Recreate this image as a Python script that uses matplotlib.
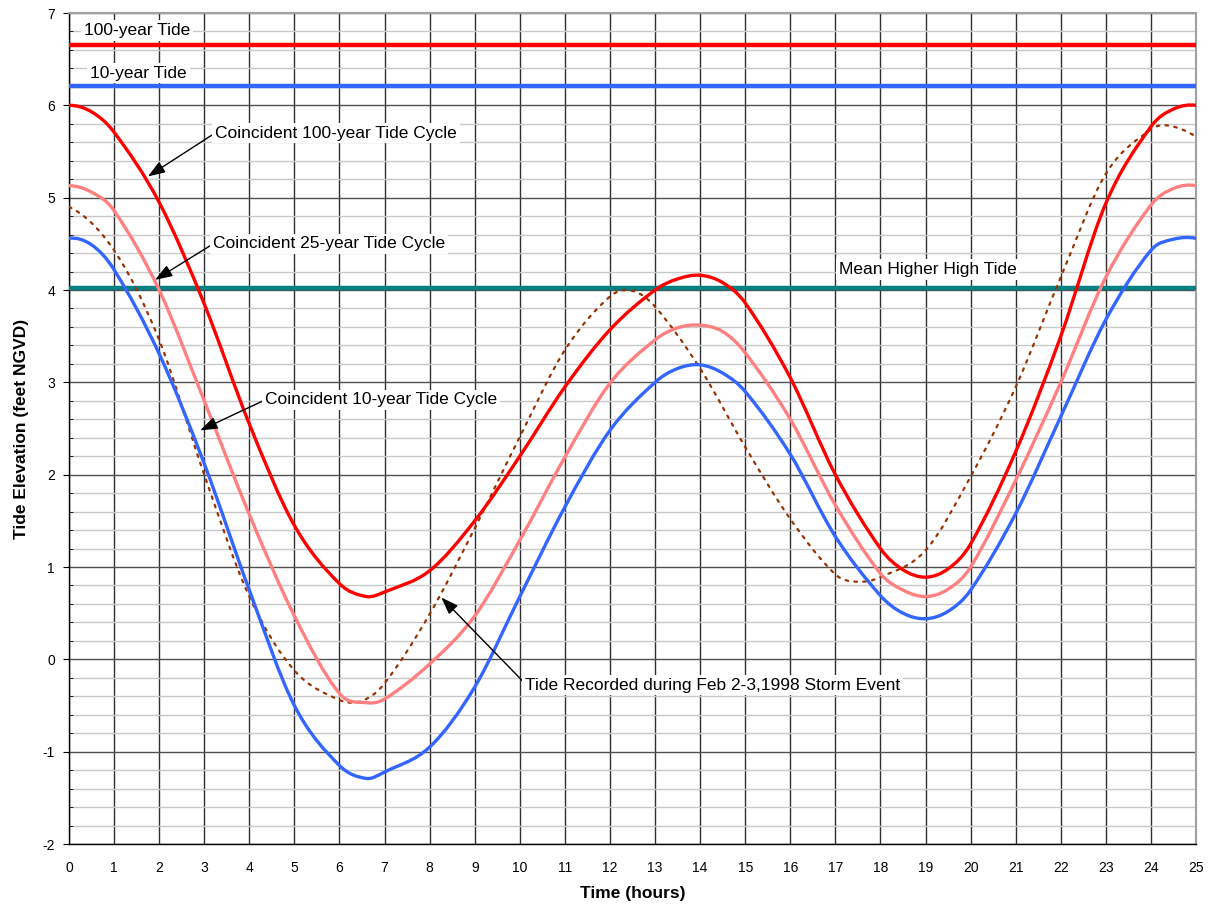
import matplotlib
matplotlib.use("Agg")
import matplotlib.pyplot as plt
import numpy as np
from matplotlib.path import Path
from matplotlib.patches import PathPatch
from matplotlib.ticker import MultipleLocator

plt.rcParams["font.family"] = ["Liberation Sans", "DejaVu Sans"]
plt.rcParams["axes.unicode_minus"] = False

# ===== DATA =====
hours = [0, 0.5, 1, 2, 3, 4, 5, 6, 6.6, 7, 8, 9, 10, 11, 12, 13, 13.5, 14, 14.5,
         15, 16, 17, 18, 18.5, 19, 19.5, 20, 21, 22, 23, 24, 24.5, 25]

cycle_100yr = [6.0, 5.93, 5.71, 4.95, 3.85, 2.55, 1.45, 0.82, 0.68, 0.73, 0.96, 1.5,
               2.2, 2.95, 3.57, 4.0, 4.12, 4.16, 4.08, 3.86, 3.05, 2.0, 1.2, 0.97,
               0.89, 0.98, 1.25, 2.25, 3.5, 4.94, 5.77, 5.96, 6.0]

cycle_25yr = [5.13, 5.06, 4.86, 4.0, 2.8, 1.57, 0.47, -0.37, -0.47, -0.43, -0.05, 0.47,
              1.29, 2.19, 2.99, 3.46, 3.59, 3.62, 3.55, 3.32, 2.6, 1.67, 0.93, 0.75,
              0.68, 0.76, 1.0, 1.94, 3.0, 4.14, 4.92, 5.1, 5.13]

cycle_10yr = [4.56, 4.49, 4.22, 3.31, 2.12, 0.75, -0.5, -1.15, -1.29, -1.22, -0.95, -0.3,
              0.68, 1.65, 2.48, 3.0, 3.15, 3.19, 3.1, 2.9, 2.22, 1.33, 0.69, 0.5,
              0.44, 0.52, 0.75, 1.58, 2.63, 3.68, 4.43, 4.55, 4.56]

rec_hours = [0, 1, 2, 3, 4, 5, 6, 6.5, 7, 8, 9, 10, 11, 12, 12.5, 13, 14, 15, 16, 17,
             17.5, 18, 19, 20, 21, 22, 23, 24, 24.4, 25]
recorded_1998 = [4.9, 4.43, 3.46, 2.0, 0.68, -0.12, -0.44, -0.45, -0.26, 0.49, 1.42,
                 2.41, 3.35, 3.93, 3.99, 3.82, 3.15, 2.3, 1.52, 0.92, 0.84, 0.89, 1.18,
                 1.98, 2.95, 4.14, 5.26, 5.74, 5.78, 5.66]

tide_100yr = 6.65
tide_10yr = 6.21
mean_higher_high = 4.02


# ===== SMOOTHED LINE (like the spreadsheet "smoothed line" option) =====
def smooth_line(ax, x, y, **kw):
    x = np.asarray(x, float)
    y = np.asarray(y, float)
    # tangent slope at every point; ends use a parabola through the last points
    m = np.empty_like(y)
    m[1:-1] = (y[2:] - y[:-2]) / (x[2:] - x[:-2])
    m[0] = 2 * (y[1] - y[0]) / (x[1] - x[0]) - m[1]
    m[-1] = 2 * (y[-1] - y[-2]) / (x[-1] - x[-2]) - m[-2]
    verts = [(x[0], y[0])]
    codes = [Path.MOVETO]
    for i in range(len(x) - 1):
        h = (x[i + 1] - x[i]) / 3.0
        verts += [(x[i] + h, y[i] + m[i] * h),
                  (x[i + 1] - h, y[i + 1] - m[i + 1] * h),
                  (x[i + 1], y[i + 1])]
        codes += [Path.CURVE4] * 3
    patch = PathPatch(Path(verts, codes), facecolor="none", capstyle="round",
                      joinstyle="round", **kw)
    ax.add_patch(patch)
    return patch


# ===== FIGURE =====
fig = plt.figure(figsize=(12.08, 9.05), dpi=100)
ax = fig.add_axes([0.0571, 0.0674, 0.9330, 0.9182])

# grid
ax.set_xlim(0, 25)
ax.set_ylim(-2, 7)
ax.xaxis.set_major_locator(MultipleLocator(1))
ax.yaxis.set_major_locator(MultipleLocator(1))
ax.yaxis.set_minor_locator(MultipleLocator(0.2))
ax.grid(which="minor", axis="y", color="#c8c8c8", lw=1.0)
ax.grid(which="major", axis="y", color="#505050", lw=1.0)
ax.grid(which="major", axis="x", color="#303030", lw=1.0)
ax.set_axisbelow(True)

# ===== SERIES =====
span = [hours[0], hours[-1]]
ax.plot(span, [tide_100yr] * 2, color="#ff0000", lw=3.2, solid_capstyle="butt", zorder=3)
ax.plot(span, [tide_10yr] * 2, color="#3366ff", lw=3.2, solid_capstyle="butt", zorder=3)
ax.plot(span, [mean_higher_high] * 2, color="#008080", lw=3.2, solid_capstyle="butt", zorder=3)

smooth_line(ax, rec_hours, recorded_1998, edgecolor="#993300", lw=1.6,
            linestyle=(0, (1.2, 2.8)), zorder=4)
smooth_line(ax, hours, cycle_10yr, edgecolor="#3366ff", lw=2.4, zorder=5)
smooth_line(ax, hours, cycle_25yr, edgecolor="#ff8080", lw=2.4, zorder=5)
smooth_line(ax, hours, cycle_100yr, edgecolor="#ff0000", lw=2.4, zorder=5)

# ===== LABELS =====
box = dict(facecolor="white", edgecolor="none", pad=2)
txt = dict(fontsize=12.5, va="center", ha="left", bbox=box, zorder=6)


def arrow(rel=(0, 0.5)):
    return dict(arrowstyle="-|>,head_length=0.7,head_width=0.25", color="black",
                lw=1.0, mutation_scale=15, shrinkA=0, shrinkB=0, relpos=rel)


ax.text(0.33, 6.81, "100-year Tide", **txt)
ax.text(0.47, 6.35, "10-year Tide", **txt)
ax.text(17.07, 4.22, "Mean Higher High Tide", **txt)

ax.annotate("Coincident 100-year Tide Cycle", xy=(1.75, 5.23), xytext=(3.24, 5.70),
            arrowprops=arrow(), **txt)
ax.annotate("Coincident 25-year Tide Cycle", xy=(1.91, 4.11), xytext=(3.2, 4.50),
            arrowprops=arrow(), **txt)
ax.annotate("Coincident 10-year Tide Cycle", xy=(2.91, 2.48), xytext=(4.35, 2.81),
            arrowprops=arrow(), **txt)
ax.annotate("Tide Recorded during Feb 2-3,1998 Storm Event", xy=(8.26, 0.67),
            xytext=(10.12, -0.28), arrowprops=arrow((0, 0.6)), **txt)

# ===== AXES STYLE =====
ax.set_xlabel("Time (hours)", fontsize=12.5, fontweight="bold", labelpad=8)
ax.set_ylabel("Tide Elevation (feet NGVD)", fontsize=12.5, fontweight="bold", labelpad=10)
ax.tick_params(axis="x", which="major", length=0, pad=12, labelsize=10)
ax.tick_params(axis="y", which="major", length=4, direction="out", pad=6, labelsize=10)
ax.tick_params(axis="y", which="minor", length=3, direction="in")

for side in ["top", "right"]:
    ax.spines[side].set_color("#a0a0a0")
    ax.spines[side].set_linewidth(1.5)
for side in ["left", "bottom"]:
    ax.spines[side].set_color("black")
    ax.spines[side].set_linewidth(1.0)

fig.savefig("out.png", dpi=100)
